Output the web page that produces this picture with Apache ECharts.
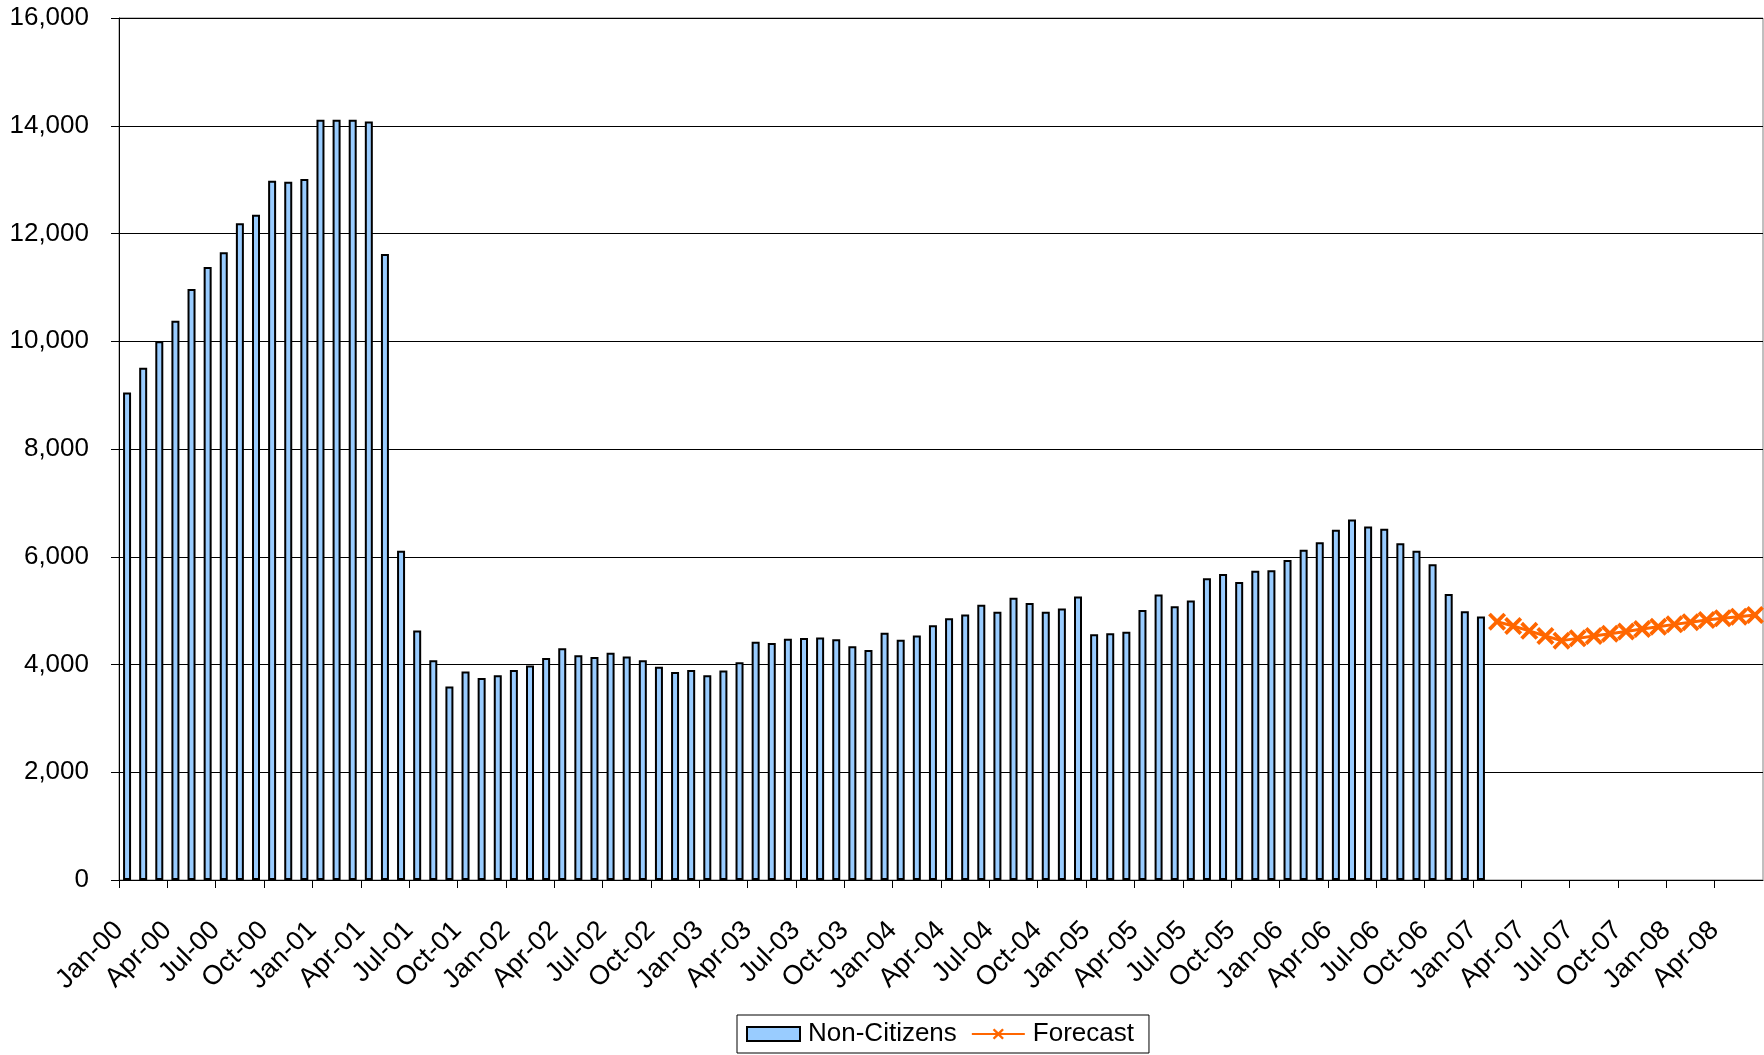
<!DOCTYPE html>
<html>
<head>
<meta charset="utf-8">
<script src="https://cdn.jsdelivr.net/npm/echarts@6/dist/echarts.min.js"></script>
<style>
  html, body { margin: 0; padding: 0; background: #ffffff; }
  #chart { width: 1764px; height: 1055px; }
</style>
</head>
<body>
<div id="chart"></div>
<script>
// Monthly categories on the x axis
const categories = [
  'Jan-00','Feb-00','Mar-00','Apr-00','May-00','Jun-00','Jul-00','Aug-00','Sep-00','Oct-00','Nov-00','Dec-00',
  'Jan-01','Feb-01','Mar-01','Apr-01','May-01','Jun-01','Jul-01','Aug-01','Sep-01','Oct-01','Nov-01','Dec-01',
  'Jan-02','Feb-02','Mar-02','Apr-02','May-02','Jun-02','Jul-02','Aug-02','Sep-02','Oct-02','Nov-02','Dec-02',
  'Jan-03','Feb-03','Mar-03','Apr-03','May-03','Jun-03','Jul-03','Aug-03','Sep-03','Oct-03','Nov-03','Dec-03',
  'Jan-04','Feb-04','Mar-04','Apr-04','May-04','Jun-04','Jul-04','Aug-04','Sep-04','Oct-04','Nov-04','Dec-04',
  'Jan-05','Feb-05','Mar-05','Apr-05','May-05','Jun-05','Jul-05','Aug-05','Sep-05','Oct-05','Nov-05','Dec-05',
  'Jan-06','Feb-06','Mar-06','Apr-06','May-06','Jun-06','Jul-06','Aug-06','Sep-06','Oct-06','Nov-06','Dec-06',
  'Jan-07','Feb-07','Mar-07','Apr-07','May-07','Jun-07','Jul-07','Aug-07','Sep-07','Oct-07','Nov-07','Dec-07',
  'Jan-08','Feb-08','Mar-08','Apr-08','May-08','Jun-08'
];

// Quarterly tick labels, one every three months
const tickLabels = [
  'Jan-00','Apr-00','Jul-00','Oct-00','Jan-01','Apr-01','Jul-01','Oct-01',
  'Jan-02','Apr-02','Jul-02','Oct-02','Jan-03','Apr-03','Jul-03','Oct-03',
  'Jan-04','Apr-04','Jul-04','Oct-04','Jan-05','Apr-05','Jul-05','Oct-05',
  'Jan-06','Apr-06','Jul-06','Oct-06','Jan-07','Apr-07','Jul-07','Oct-07',
  'Jan-08','Apr-08'
];

// Non-Citizens, Jan-00 through Jan-07
const nonCitizensStart = 'Jan-00';
const nonCitizens = [
  9050, 9510, 10000, 10380, 10970, 11380, 11650, 12190, 12350, 12980, 12960, 13010,
  14110, 14110, 14110, 14080, 11620, 6110, 4630, 4080, 3590, 3870, 3750, 3800,
  3900, 3980, 4120, 4300, 4170, 4140, 4220, 4150, 4080, 3960, 3860, 3900,
  3800, 3890, 4040, 4420, 4400, 4480, 4490, 4500, 4470, 4340, 4270, 4590,
  4460, 4540, 4730, 4860, 4930, 5110, 4980, 5240, 5140, 4980, 5040, 5260,
  4560, 4580, 4610, 5010, 5300, 5080, 5190, 5600, 5680, 5530, 5740, 5750,
  5940, 6130, 6270, 6500, 6690, 6560, 6520, 6250, 6110, 5860, 5310, 4990,
  4890
];

// Forecast, Feb-07 through Jun-08
const forecastStart = 'Feb-07';
const forecast = [
  4795, 4715, 4625, 4530, 4443, 4485, 4528, 4570, 4613, 4658, 4702, 4745,
  4786, 4826, 4858, 4888, 4919
];

// Y axis range
const yMin = 0, yMax = 16000, yStep = 2000;

function alignTo(start, values) {
  const s = categories.indexOf(start);
  return categories.map((c, i) => {
    const k = i - s;
    return (k >= 0 && k < values.length) ? values[k] : null;
  });
}

const FONT = '"Liberation Sans", Arial, sans-serif';
// "x" marker drawn as a filled cross outline
const CROSS = 'path://M3,0L10,7L17,0L20,3L13,10L20,17L17,20L10,13L3,20L0,17L7,10L0,3Z';

const chart = echarts.init(document.getElementById('chart'), null, { renderer: 'canvas' });

chart.setOption({
  backgroundColor: '#ffffff',
  animation: false,
  textStyle: { fontFamily: FONT },
  grid: {
    left: 119, top: 18, width: 1644, height: 862,
    show: true, borderColor: '#808080', borderWidth: 1,
    containLabel: false, outerBoundsMode: 'none'
  },
  legend: {
    left: 737, top: 1015,
    orient: 'horizontal',
    padding: [6, 15, 6, 9],
    itemGap: 14,
    itemWidth: 53, itemHeight: 14,
    borderColor: '#000000', borderWidth: 1,
    textStyle: { fontFamily: FONT, fontSize: 26, color: '#000000', padding: [0, 0, 0, 3] },
    data: [
      { name: 'Non-Citizens', icon: 'rect' },
      { name: 'Forecast' }
    ]
  },
  xAxis: [
    {
      type: 'category',
      data: categories,
      boundaryGap: true,
      show: false,
      position: 'bottom'
    },
    {
      type: 'value',
      min: 0, max: categories.length, interval: 3,
      position: 'bottom',
      axisLine: { show: true, onZero: false, lineStyle: { color: '#000000', width: 1 } },
      axisTick: { show: true, inside: false, length: 8, lineStyle: { color: '#000000', width: 1 } },
      splitLine: { show: false },
      axisLabel: {
        rotate: 45,
        margin: 46,
        fontFamily: FONT,
        fontSize: 27,
        color: '#000000',
        showMaxLabel: false,
        formatter: v => tickLabels[Math.round(v / 3)] || ''
      }
    }
  ],
  yAxis: {
    type: 'value',
    min: yMin, max: yMax, interval: yStep,
    axisLine: { show: true, lineStyle: { color: '#000000', width: 1 } },
    axisTick: { show: true, inside: false, length: 8, lineStyle: { color: '#000000', width: 1 } },
    splitLine: { show: true, lineStyle: { color: '#000000', width: 1 } },
    axisLabel: {
      margin: 30,
      fontFamily: FONT,
      fontSize: 26,
      color: '#000000',
      formatter: v => v.toLocaleString('en-US')
    }
  },
  series: [
    {
      name: 'Non-Citizens',
      type: 'bar',
      xAxisIndex: 0,
      data: alignTo(nonCitizensStart, nonCitizens),
      barWidth: 8,
      itemStyle: { color: '#99CCFF', borderColor: '#000000', borderWidth: 2 },
      z: 2
    },
    {
      name: 'Forecast',
      type: 'line',
      xAxisIndex: 0,
      data: alignTo(forecastStart, forecast),
      symbol: CROSS,
      symbolSize: 18,
      showSymbol: true,
      showAllSymbol: true,
      connectNulls: false,
      lineStyle: { color: '#FF6600', width: 3 },
      itemStyle: { color: '#FF6600' },
      z: 3
    }
  ]
});
</script>
</body>
</html>
